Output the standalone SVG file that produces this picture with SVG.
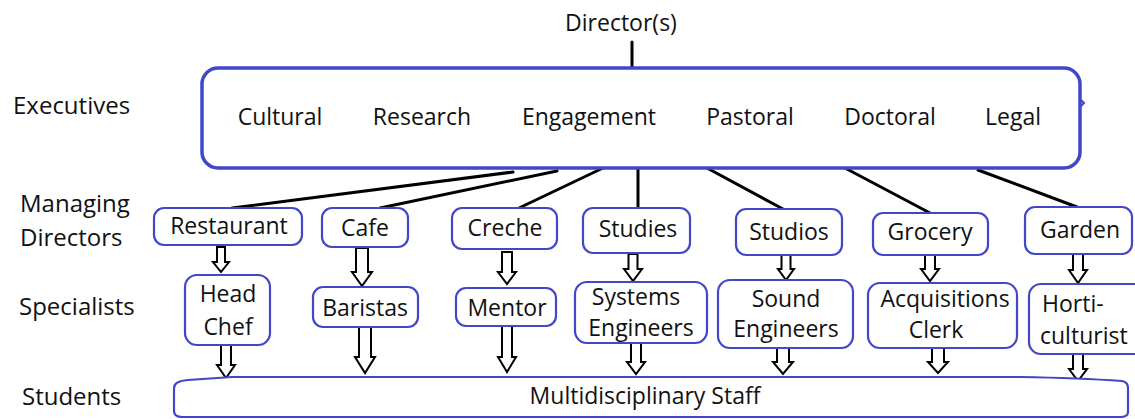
<svg xmlns="http://www.w3.org/2000/svg" width="1135" height="419" viewBox="0 0 1135 419">
<style>
text{font-family:"Open Sans","Liberation Sans",sans-serif;font-size:23px;fill:#111}
.c{text-anchor:middle}
.lbl{font-size:24px}
.box{fill:#fff;stroke:#4147C8;stroke-width:2.2}
.exec{fill:#fff;stroke:#4147C8;stroke-width:3.5}
.ln{stroke:#000;stroke-width:3;fill:none;stroke-linecap:round}
.ar{fill:#fff;stroke:#000;stroke-width:2;stroke-linejoin:miter}
</style>
<rect width="1135" height="419" fill="#fff"/>
<g id="labels">
<text class="lbl" x="13" y="114">Executives</text>
<text class="lbl" x="20" y="212">Managing</text>
<text class="lbl" x="20" y="246">Directors</text>
<text class="lbl" x="19" y="315">Specialists</text>
<text class="lbl" x="22" y="405">Students</text>
</g>
<g id="connectors">
<line class="ln" x1="632" y1="42" x2="632" y2="69"/>
<line class="ln" x1="513" y1="172" x2="232" y2="208"/>
<line class="ln" x1="557" y1="171" x2="380" y2="208"/>
<line class="ln" x1="603" y1="168" x2="519" y2="208"/>
<line class="ln" x1="638" y1="168" x2="638" y2="208"/>
<line class="ln" x1="707" y1="168" x2="783" y2="209"/>
<line class="ln" x1="845" y1="168" x2="930" y2="213"/>
<line class="ln" x1="978" y1="170" x2="1077" y2="207"/>
<path class="ar" d="M217,247 L225,247 L225,262 L229,262 L221,272 L213,262 L217,262 Z"/>
<path class="ar" d="M356,248 L368,248 L368,272 L372,272 L362,286 L352,272 L356,272 Z"/>
<path class="ar" d="M502,252 L512,252 L512,272 L516,272 L507,284 L498,272 L502,272 Z"/>
<path class="ar" d="M628.5,254 L637.5,254 L637.5,269 L642,269 L633,281 L624,269 L628.5,269 Z"/>
<path class="ar" d="M781.5,255 L790.5,255 L790.5,269 L794,269 L786,280 L778,269 L781.5,269 Z"/>
<path class="ar" d="M925,255 L935,255 L935,269 L939,269 L930,281 L921,269 L925,269 Z"/>
<path class="ar" d="M1073,254 L1083,254 L1083,270 L1087,270 L1078,283 L1069,270 L1073,270 Z"/>
<path class="ar" d="M221,345 L231,345 L231,365 L235,365 L226,378 L217,365 L221,365 Z"/>
<path class="ar" d="M359,327 L371,327 L371,357 L375,357 L365,373 L355,357 L359,357 Z"/>
<path class="ar" d="M502,326 L512,326 L512,357 L516,357 L507,372 L498,357 L502,357 Z"/>
<path class="ar" d="M631,343 L641,343 L641,362 L645,362 L636,374 L627,362 L631,362 Z"/>
<path class="ar" d="M777,348 L789,348 L789,362 L793,362 L783,374 L773,362 L777,362 Z"/>
<path class="ar" d="M932,348 L944,348 L944,362 L948,362 L938,373 L928,362 L932,362 Z"/>
<path class="ar" d="M1073,354 L1083,354 L1083,369 L1087,369 L1078,381 L1069,369 L1073,369 Z"/>
</g>
<g id="director">
<text class="c" x="621" y="31">Director(s)</text>
</g>
<g id="executives">
<rect class="exec" x="202" y="68" width="878" height="100" rx="16"/>
<path d="M1081,100 L1084,103 L1081,106" fill="none" stroke="#4147C8" stroke-width="2"/>
<text class="c" x="280" y="125">Cultural</text>
<text class="c" x="422" y="125">Research</text>
<text class="c" x="589" y="125">Engagement</text>
<text class="c" x="750" y="125">Pastoral</text>
<text class="c" x="890" y="125">Doctoral</text>
<text class="c" x="1013" y="125">Legal</text>
</g>
<g id="restaurant"><rect class="box" x="154" y="208" width="148" height="37" rx="10"/><text class="c" x="229" y="234">Restaurant</text></g>
<g id="cafe"><rect class="box" x="322" y="208" width="86" height="39" rx="10"/><text class="c" x="365" y="236">Cafe</text></g>
<g id="creche"><rect class="box" x="452" y="208" width="105" height="41" rx="10"/><text class="c" x="505" y="236">Creche</text></g>
<g id="studies"><rect class="box" x="583" y="208" width="107" height="45" rx="10"/><text class="c" x="638" y="237">Studies</text></g>
<g id="studios"><rect class="box" x="736" y="209" width="106" height="46" rx="10"/><text class="c" x="789" y="240">Studios</text></g>
<g id="grocery"><rect class="box" x="873" y="213" width="115" height="42" rx="10"/><text class="c" x="930" y="240">Grocery</text></g>
<g id="garden"><rect class="box" x="1025" y="207" width="107" height="47" rx="10"/><text class="c" x="1080" y="238">Garden</text></g>
<g id="headchef"><rect class="box" x="185" y="275" width="85" height="70" rx="12"/><text class="c" x="228" y="302">Head</text><text class="c" x="228" y="335">Chef</text></g>
<g id="baristas"><rect class="box" x="313" y="287" width="105" height="40" rx="10"/><text class="c" x="365" y="316">Baristas</text></g>
<g id="mentor"><rect class="box" x="456" y="288" width="100" height="38" rx="10"/><text class="c" x="507" y="316">Mentor</text></g>
<g id="systems"><rect class="box" x="575" y="282" width="132" height="61" rx="12"/><text class="c" x="636" y="305">Systems</text><text class="c" x="641" y="336">Engineers</text></g>
<g id="sound"><rect class="box" x="718" y="280" width="135" height="68" rx="12"/><text class="c" x="786" y="307">Sound</text><text class="c" x="786" y="337">Engineers</text></g>
<g id="acquisitions"><rect class="box" x="868" y="283" width="149" height="65" rx="12"/><text class="c" x="945" y="307">Acquisitions</text><text class="c" x="936" y="338">Clerk</text></g>
<g id="horticulturist"><rect class="box" x="1029" y="284" width="120" height="70" rx="12"/><text x="1042" y="312">Horti-</text><text x="1040" y="344">culturist</text></g>
<g id="staff">
<path d="M232,377 L1020,377 Q1080,378 1122,381 Q1128,382 1128,388 L1128,412 Q1128,417 1120,417 L182,417 Q174,417 174,411 L174,388 Q174,381 188,380 Z" fill="#fff" stroke="#4147C8" stroke-width="2.2"/>
<text class="c" x="645" y="404">Multidisciplinary Staff</text>
</g>
</svg>
